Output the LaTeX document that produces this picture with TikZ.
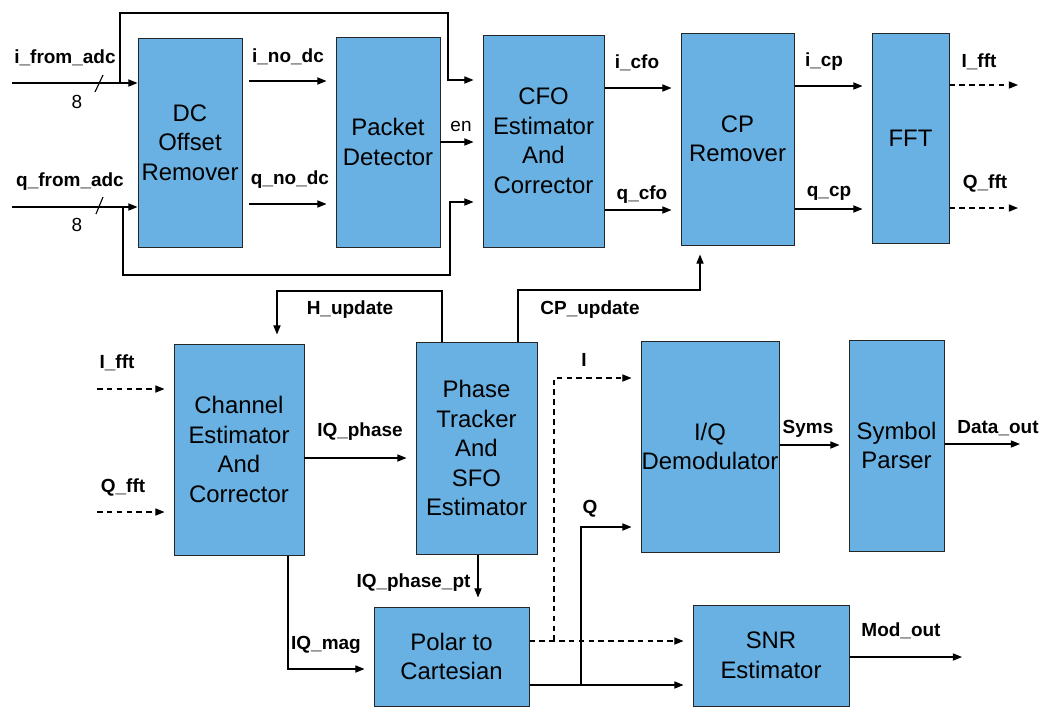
\documentclass[tikz,border=0pt]{standalone}
\usepackage{fontspec}
\setmainfont{Liberation Sans}
\usepackage{tikz}
\usetikzlibrary{arrows.meta}
\usepackage{xcolor}
\definecolor{blkblue}{RGB}{104,177,226}

\begin{document}
\begin{tikzpicture}[x=0.25mm,y=-0.25mm,>={Triangle[length=2.3mm,width=1.8mm]},line width=0.8pt,
  blk/.style={draw=black!85,fill=blkblue,line width=0.7pt,inner sep=0pt,align=center,font=\fontsize{17}{21}\selectfont},
  sig/.style={inner sep=0pt,font=\fontsize{13.5}{15}\selectfont\bfseries},
  num/.style={inner sep=0pt,font=\fontsize{13.5}{15}\selectfont},
  gapend/.style={shorten >=2.25mm},
  dsh/.style={dash pattern=on 4pt off 3pt}]
\useasboundingbox (0,0) rectangle (1048,712);
\node[blk,minimum width=26mm,minimum height=52.25mm] (dc) at (190,142.5) {DC\\Offset\\Remover};
\node[blk,minimum width=26mm,minimum height=52.5mm] (pd) at (388,142) {Packet\\Detector};
\node[blk,minimum width=30.25mm,minimum height=53mm] (cfo) at (543.5,141) {CFO\\Estimator\\And\\Corrector};
\node[blk,minimum width=28.25mm,minimum height=53mm] (cp) at (737.5,139) {CP\\Remover};
\node[blk,minimum width=19.25mm,minimum height=52.5mm] (fft) at (910.5,138) {FFT};
\node[blk,minimum width=32.5mm,minimum height=52.75mm] (ch) at (239,449.5) {Channel\\Estimator\\And\\Corrector};
\node[blk,minimum width=30.25mm,minimum height=53mm] (ph) at (476.5,448) {Phase\\Tracker\\And\\SFO\\Estimator};
\node[blk,minimum width=34.5mm,minimum height=52.75mm] (iq) at (710,446.5) {I/Q\\Demodulator};
\node[blk,minimum width=23.75mm,minimum height=52.75mm] (sp) at (896.5,445.5) {Symbol\\Parser};
\node[blk,minimum width=38.75mm,minimum height=24.75mm] (pc) at (451.5,656.5) {Polar to\\Cartesian};
\node[blk,minimum width=39mm,minimum height=25.25mm] (snr) at (771,655.5) {SNR\\Estimator};

\coordinate (iadc) at (12,83);
\coordinate (qadc) at (12,207);
\coordinate (bri) at (120,83);
\coordinate (brq) at (123,207);
\draw[->] (iadc) -- (iadc -| dc.west);
\draw[->] (qadc) -- (qadc -| dc.west);
\draw (95,92) -- (103,75);
\draw (96,214) -- (103,197);
\node[sig] at (65,58) {i\_from\_adc};
\node[sig] at (70,182) {q\_from\_adc};
\node[num] at (77,102) {8};
\node[num] at (77,225) {8};
\draw[->,gapend] (bri) |- (448,13) |- (cfo.west |- 0,80);
\draw[->,gapend] (brq) |- (450,275) |- (cfo.west |- 0,202);

\draw[->,gapend,shorten <=1.75mm] (dc.east |- 0,81) -- (pd.west |- 0,81);
\draw[->,gapend,shorten <=1.75mm] (dc.east |- 0,204) -- (pd.west |- 0,204);
\draw[->,gapend] (pd.east |- 0,142) -- (cfo.west |- 0,142);
\draw[->,gapend] (cfo.east |- 0,88) -- (cp.west |- 0,88);
\draw[->,gapend] (cfo.east |- 0,210) -- (cp.west |- 0,210);
\draw[->,gapend] (cp.east |- 0,86) -- (fft.west |- 0,86);
\draw[->,gapend] (cp.east |- 0,209) -- (fft.west |- 0,209);
\coordinate (ifft) at (1018,85);
\coordinate (qfft) at (1018,208);
\draw[->,dsh] (fft.east |- ifft) -- (ifft);
\draw[->,dsh] (fft.east |- qfft) -- (qfft);
\node[sig] at (288,57) {i\_no\_dc};
\node[sig] at (290,180) {q\_no\_dc};
\node[num] at (461,126) {en};
\node[sig] at (637,63) {i\_cfo};
\node[sig] at (642,195) {q\_cfo};
\node[sig] at (824,62) {i\_cp};
\node[sig] at (829,193) {q\_cp};
\node[sig] at (979,62) {I\_fft};
\node[sig] at (985,183) {Q\_fft};

\draw[->,gapend] (ph.north -| 442,0) |- (277,291) -- (ch.north -| 277,0);
\draw[->,gapend] (ph.north -| 518,0) |- (700,290) -- (cp.south -| 700,0);
\node[sig] at (350,310) {H\_update};
\node[sig] at (590,310) {CP\_update};
\coordinate (ifftin) at (97,389);
\coordinate (qfftin) at (97,512);
\draw[->,dsh,gapend] (ifftin) -- (ifftin -| ch.west);
\draw[->,dsh,gapend] (qfftin) -- (qfftin -| ch.west);
\node[sig] at (117,363) {I\_fft};
\node[sig] at (123,487) {Q\_fft};
\draw[->,gapend] (ch.east |- 0,458) -- (ph.west |- 0,458);
\node[sig] at (360,432) {IQ\_phase};
\draw[->,gapend] (ph.south -| 478,0) -- (pc.north -| 478,0);
\node[sig,anchor=east] at (471,583) {IQ\_phase\_pt};
\draw[->,gapend] (ch.south -| 288,0) |- (pc.west |- 0,669);
\node[sig] at (326,645) {IQ\_mag};

\draw[->,dsh,gapend] (pc.east |- 0,641) -- (snr.west |- 0,641);
\draw[->,gapend] (pc.east |- 0,685) -- (snr.west |- 0,685);
\draw[->,dsh,gapend] (554,641) |- (iq.west |- 0,378);
\draw[->,gapend] (581,685) |- (iq.west |- 0,527);
\node[sig] at (584,360) {I};
\node[sig] at (590,509) {Q};
\draw[->,gapend] (iq.east |- 0,445) -- (sp.west |- 0,445);
\node[sig] at (808,429) {Syms};
\coordinate (dout) at (1020,444);
\draw[->] (sp.east |- dout) -- (dout);
\node[sig] at (998,428) {Data\_out};
\coordinate (mout) at (962,657);
\draw[->] (snr.east |- mout) -- (mout);
\node[sig] at (901,631) {Mod\_out};
\end{tikzpicture}
\end{document}
